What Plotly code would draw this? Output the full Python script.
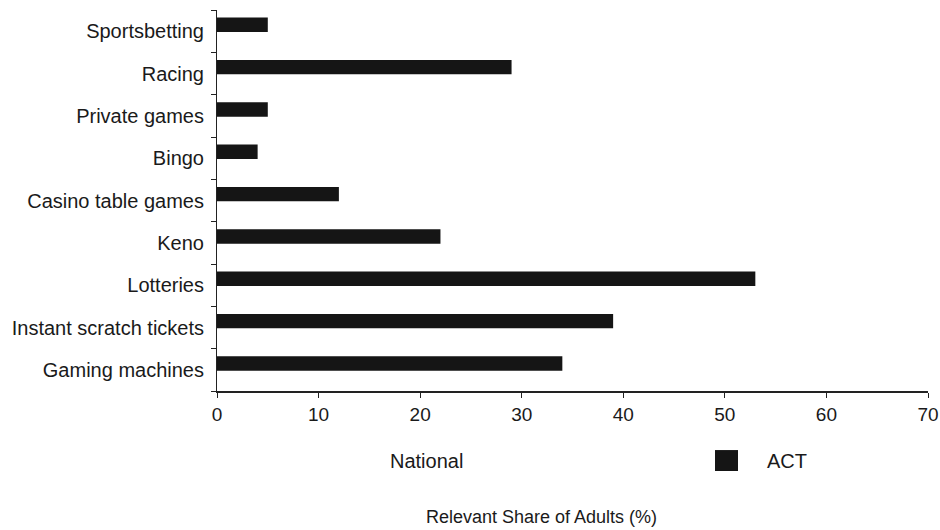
import plotly.graph_objects as go

categories = ["Gaming machines", "Instant scratch tickets", "Lotteries", "Keno",
              "Casino table games", "Bingo", "Private games", "Racing", "Sportsbetting"]
act_values = [34, 39, 53, 22, 12, 4, 5, 29, 5]
x_ticks = [0, 10, 20, 30, 40, 50, 60, 70]

FONT = "Liberation Sans, Arial, sans-serif"
INK = "#1a1a1a"

fig = go.Figure()
fig.add_trace(go.Bar(
    y=categories, x=act_values, orientation="h", name="ACT",
    marker=dict(color="#151515", line=dict(width=0)),
    width=0.34, offset=-0.02, showlegend=False,
))

fig.update_layout(
    width=940, height=530, autosize=False,
    margin=dict(l=217, r=12, t=10, b=139, autoexpand=False),
    paper_bgcolor="white", plot_bgcolor="white",
    font=dict(family=FONT, size=20, color=INK),
    xaxis=dict(range=[0, 70], tickvals=x_ticks, showgrid=False, zeroline=False,
               showline=True, linecolor="#222", linewidth=1.5,
               ticks="outside", ticklen=5, tickcolor="#222", automargin=False,
               tickfont=dict(size=19)),
    yaxis=dict(type="category", categoryorder="array", categoryarray=categories,
               showgrid=False, zeroline=False, showline=True, linecolor="#222", linewidth=1,
               ticks="outside", ticklen=5, tickcolor="#222", tickson="boundaries",
               ticklabelstandoff=8, automargin=False, tickfont=dict(size=20)),
    showlegend=False,
)

fig.add_annotation(text="National", xref="paper", yref="paper", x=0.2405, y=-0.1837,
                   xanchor="left", yanchor="middle", showarrow=False, font=dict(size=20))
fig.add_shape(type="rect", xref="paper", yref="paper", x0=0.7004, x1=0.7328,
              y0=-0.21, y1=-0.155, fillcolor="#151515", line=dict(width=0))
fig.add_annotation(text="ACT", xref="paper", yref="paper", x=0.7707, y=-0.1837,
                   xanchor="left", yanchor="middle", showarrow=False, font=dict(size=20))
fig.add_annotation(text="Relevant Share of Adults (%)", xref="paper", yref="paper",
                   x=0.4557, y=-0.331, xanchor="center", yanchor="middle",
                   showarrow=False, font=dict(size=18))

page_css = ("document.documentElement.style.overflow='hidden';"
            "document.body.style.margin='0';document.body.style.overflow='hidden';")
fig.write_html("out.html", post_script=page_css,
               config={"displayModeBar": False, "responsive": False})
